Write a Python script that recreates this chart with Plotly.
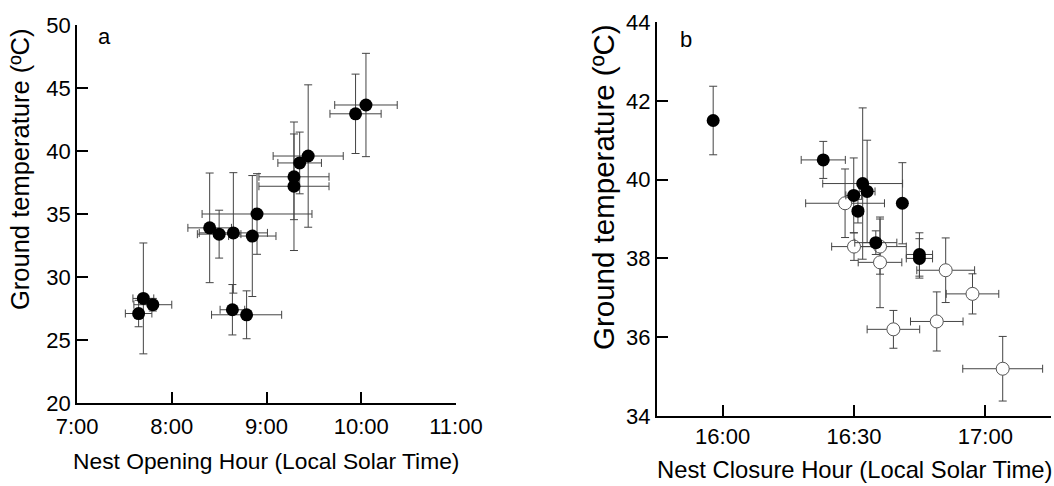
import plotly.graph_objects as go

# ---------------- Panel a : nest opening ----------------
open_hour = [7.70, 7.80, 7.65, 8.64, 8.79, 8.40, 8.50, 8.65, 8.85, 8.90, 9.29, 9.29, 9.35, 9.44, 9.94, 10.05]
open_hour_err = [0.11, 0.20, 0.14, 0.13, 0.37, 0.23, 0.23, 0.36, 0.25, 0.58, 0.37, 0.37, 0.23, 0.37, 0.27, 0.33]
open_temp = [28.3, 27.8, 27.1, 27.4, 27.0, 33.9, 33.4, 33.5, 33.25, 35.0, 37.2, 37.95, 39.05, 39.6, 42.95, 43.65]
open_temp_err = [4.4, 0.5, 1.05, 2.0, 1.9, 4.35, 1.9, 4.78, 4.8, 3.2, 5.1, 3.4, 2.45, 5.65, 3.15, 4.1]

# ---------------- Panel b : nest closure ----------------
# filled symbols
close_hour_f = [15.964, 16.383, 16.533, 16.550, 16.499, 16.515, 16.684, 16.583, 16.749, 16.749]
close_hour_f_err = [0.0, 0.084, 0.152, 0.03, 0.03, 0.02, 0.0, 0.08, 0.05, 0.05]
close_temp_f = [41.5, 40.5, 39.9, 39.7, 39.6, 39.2, 39.4, 38.4, 38.1, 38.0]
close_temp_f_err = [0.87, 0.47, 1.92, 1.3, 0.95, 0.3, 1.03, 0.3, 0.55, 0.5]
# open symbols
close_hour_o = [16.466, 16.500, 16.599, 16.599, 16.849, 16.951, 16.815, 16.650, 17.066]
close_hour_o_err = [0.15, 0.085, 0.10, 0.083, 0.11, 0.10, 0.10, 0.10, 0.152]
close_temp_o = [39.4, 38.3, 38.3, 37.9, 37.7, 37.1, 36.4, 36.2, 35.2]
close_temp_o_err = [0.87, 0.35, 0.7, 1.15, 0.82, 0.51, 0.75, 0.48, 0.82]

# ---------------- axis ticks ----------------
a_xticks = [7, 8, 9, 10, 11]
a_xlabels = ["7:00", "8:00", "9:00", "10:00", "11:00"]
a_yticks = [20, 25, 30, 35, 40, 45, 50]
b_xticks = [16, 16.5, 17]
b_xlabels = ["16:00", "16:30", "17:00"]
b_yticks = [34, 36, 38, 40, 42, 44]

FONT = "Liberation Sans, Arial, sans-serif"
EB = "#444444"
W, H = 1054, 486

def err(vals):
    return dict(type="data", array=vals, visible=True, color=EB, thickness=1, width=4)

fig = go.Figure()
fig.add_trace(go.Scatter(
    x=open_hour, y=open_temp, mode="markers",
    error_x=err(open_hour_err), error_y=err(open_temp_err),
    marker=dict(size=13, color="black", line=dict(width=0)),
    xaxis="x", yaxis="y", showlegend=False))
fig.add_trace(go.Scatter(
    x=close_hour_o, y=close_temp_o, mode="markers",
    error_x=err(close_hour_o_err), error_y=err(close_temp_o_err),
    marker=dict(size=13, color="white", line=dict(width=1, color="#555555")),
    xaxis="x2", yaxis="y2", showlegend=False))
fig.add_trace(go.Scatter(
    x=close_hour_f, y=close_temp_f, mode="markers",
    error_x=err(close_hour_f_err), error_y=err(close_temp_f_err),
    marker=dict(size=13, color="black", line=dict(width=0)),
    xaxis="x2", yaxis="y2", showlegend=False))

axis_common = dict(showline=True, linecolor="black", linewidth=2, mirror=False,
                   ticks="inside", ticklen=11, tickwidth=2, tickcolor="black",
                   showgrid=False, zeroline=False, automargin=False,
                   tickfont=dict(family=FONT, size=22, color="black"))

def ann(text, px, py, size, angle=0):
    return dict(text=text, x=px / W, y=1 - py / H, xref="paper", yref="paper",
                xanchor="center", yanchor="middle", textangle=angle,
                showarrow=False, font=dict(size=size, family=FONT, color="black"))

fig.update_layout(
    width=W, height=H,
    margin=dict(l=0, r=0, t=0, b=0),
    paper_bgcolor="white", plot_bgcolor="white",
    font=dict(family=FONT, color="black"),
    xaxis=dict(domain=[0.0731, 0.4326], range=[7, 11], tickvals=a_xticks, ticktext=a_xlabels,
               anchor="y", ticklabelstandoff=3, **axis_common),
    yaxis=dict(domain=[0.1708, 0.9486], range=[20, 50], tickvals=a_yticks,
               anchor="x", **axis_common),
    xaxis2=dict(domain=[0.6233, 0.9972], range=[15.75, 17.25], tickvals=b_xticks, ticktext=b_xlabels,
                anchor="y2", **axis_common),
    yaxis2=dict(domain=[0.1440, 0.9547], range=[34, 44], tickvals=b_yticks,
                anchor="x2", **axis_common),
    annotations=[
        ann("Nest Opening Hour (Local Solar Time)", 266, 461, 22.8),
        ann("Nest Closure Hour (Local Solar Time)", 854, 469, 23.8),
        ann("Ground temperature (ºC)", 20, 170, 25.5, -90),
        ann("Ground temperature (ºC)", 603, 187, 29.5, -90),
        ann("a", 104, 36, 22),
        ann("b", 686, 40, 22),
    ],
)

fig.write_html("out.html")
